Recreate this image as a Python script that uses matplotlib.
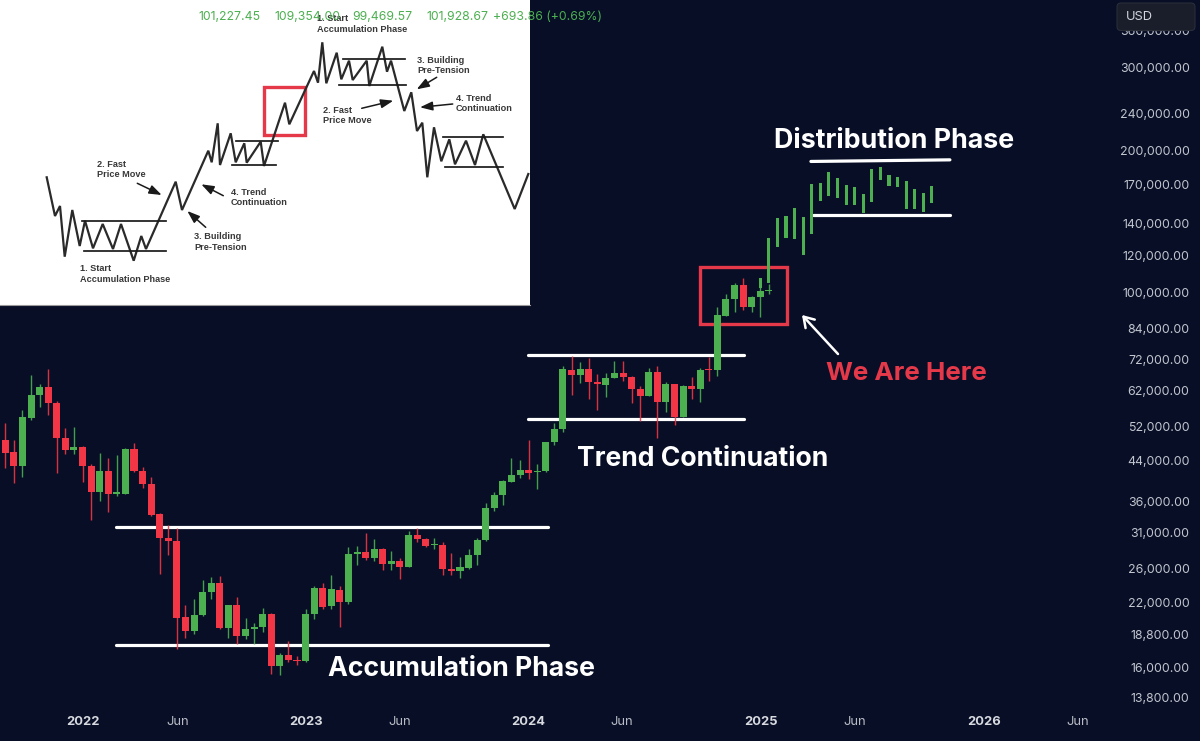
import matplotlib
matplotlib.use("Agg")
import matplotlib.pyplot as plt
from matplotlib.patches import Rectangle, FancyBboxPatch
from matplotlib.ticker import NullLocator, NullFormatter

BG = "#070e26"
GREEN = "#4caf50"
RED = "#f23645"
RECT = "#e5394a"
plt.rcParams["font.family"] = ["Inter", "DejaVu Sans"]

candle_up = [0,0,1,1,1,0,0,0,1,0,0,1,0,1,1,0,0,0,0,0,0,0,1,1,1,0,1,0,1,1,1,0,1,0,0,1,1,
             0,1,0,1,1,0,1,0,1,0,1,0,0,1,0,0,1,1,1,1,1,1,1,1,0,1,1,1,1,
             0,1,0,0,1,1,0,0,0,1,0,1,0,1,0,1,0,1,1,1,0,1,1,1]
body_top = [48690,45850,54400,60670,63000,63000,58430,49100,47050,47130,42870,41840,41840,37760,46660,46660,41910,39260,33860,30110,29760,20460,20700,23200,24160,24160,21730,21700,19320,19490,20800,20800,17020,17020,16630,20770,23650,
            23590,23470,23390,27880,28200,28200,28540,28540,26990,26990,30560,30560,30060,29300,29140,25960,26140,27790,29810,34930,37210,39790,41100,42050,42050,41780,48220,51380,68790,
            68560,69000,69000,64660,66040,67450,67450,66370,62370,67990,67990,64020,64020,63410,63410,68560,68890,89580,96880,103900,103900,98110,100700,101380]
body_bot = [45630,42870,42870,54140,60580,58430,49100,46370,46300,42870,37760,37760,37390,37390,37390,41840,39260,33750,30110,29670,20430,19140,19160,20680,23160,19390,19420,18680,18680,19350,19490,16150,16150,16610,16500,16500,20770,
            21560,21640,22050,22050,27840,27350,27350,26560,26560,26170,26170,29960,29000,29160,25880,25630,25630,26040,27750,29810,34870,37150,39710,41100,41370,41570,41780,48150,51380,
            66850,66850,64660,63950,63720,65930,66260,62370,60500,60500,58590,58590,54570,54570,62370,62480,68680,68460,89430,96880,93150,93150,98110,100700]
wick_high = [52830,48690,56380,66910,64020,68790,59010,51560,51800,47280,43290,45630,44650,45250,46750,48050,42730,40570,34020,32140,31620,21730,22350,24560,24890,25050,21730,22600,20370,19880,21390,20930,17160,18260,16930,21280,23840,
             24160,25170,23840,28820,29000,30950,29960,28680,28340,27300,31250,31620,30110,30110,29520,27970,27440,28540,30230,35730,37820,40040,44530,44150,48690,43290,48290,52830,69750,
             73420,71390,72600,67230,67450,71520,71520,66590,63410,69130,69750,64760,64100,63720,66150,69130,73170,93150,99270,104800,107700,98450,102700,104400]
wick_low = [42400,39400,40570,53690,57130,55020,41500,45470,45470,39710,32930,36180,34290,37030,37390,41640,38510,33580,25290,27750,17500,18530,18860,20600,22350,19350,18470,17970,18430,17970,19070,15510,15440,16470,16180,16450,20330,
            21340,21340,19560,21900,26390,27080,26900,25790,25790,24680,26140,29610,28820,28540,25170,25210,24800,25960,26430,29760,34460,35440,39590,40380,40310,38380,41700,47520,50710,
            60580,64240,59410,56380,60000,65930,65060,58280,53430,60400,49100,55920,52390,54400,59530,58700,65060,66720,89280,91220,91930,91220,88980,99270]

future_index = list(range(88, 109))
future_high = [107350,130580,143990,145800,151150,144700,170000,170820,180260,175040,169160,167500,161930,182920,185000,177900,176430,173000,165960,162750,168580]
future_low = [102200,104760,125300,130960,130320,120330,133360,156960,160620,159280,153920,153470,147500,156190,173600,168580,168000,150930,150730,148660,154980]

y_ticks = [360000,300000,240000,200000,170000,140000,120000,100000,84000,72000,62000,52000,44000,36000,31000,26000,22000,18800,16000,13800]
x_tick_pos = [9.06,20.13,35.05,46.0,61.0,71.9,88.1,99.0,114.1,125.0]
x_tick_labels = ["2022","Jun","2023","Jun","2024","Jun","2025","Jun","2026","Jun"]

# (x0, x1, price0, price1)
levels = [(12.9,63.25,31820,31820),(12.9,63.25,17880,17880),
          (60.9,86.1,73770,73770),(60.9,86.1,53950,53950),
          (93.9,110.1,190000,191500),(94.1,110.1,146300,146300)]

sketch_x = [46.7,55,60,64.7,72.3,79.7,85,93,102.7,113,121,133.7,141.3,146,175.7,182,208.3,211.7,217.7,220,230.7,235.7,244.3,246.7,260.7,264,285,289.3,314,318,322.3,326.3,336.7,341.3,349,352.7,366.7,369.3,382.3,387,391,404.3,411.3,417,422.3,427.3,434,441.3,449.3,455,466,475,483.3,514.7,528.3]
sketch_y = [177.3,216,206,256.7,210,246,220.7,248.3,224,249,224,260.7,236,249,181.7,210,150.7,162.3,123.3,165,133.3,162.3,143.3,162.7,141.7,166,102.7,124.3,71,82.7,42.3,83.3,52.7,79.3,60.7,80,60.7,86,46.7,71.7,60.7,111,92.3,131,122.7,177.3,127.3,161.3,139.3,164.3,140.7,165,134.3,209,174]
sketch_lines = [(81.7,165.7,220.7),(84,165.7,251),(236,278,140.7),(232.3,276,165.3),(342.7,405,59.3),(338.7,405.7,84.7),(442.7,502.7,137),(445,502.7,167.3)]
sketch_notes = [("1. Start\nAccumulation Phase",80.5,274),("2. Fast\nPrice Move",97,169.5),("3. Building\nPre-Tension",194,242),("4. Trend\nContinuation",231,197.5),
                ("1. Start\nAccumulation Phase",316.7,24),("3. Building\nPre-Tension",417,65.5),("2. Fast\nPrice Move",323.3,115.5),("4. Trend\nContinuation",455.7,103.5)]
sketch_arrows = [(137.3,183.3,161.7,195),(223.3,195.7,201.3,184.3),(205.7,227.3,187.3,211),(361.7,108.3,393.3,100.7),(436.7,77.3,416.7,89.3),(452.7,104,420,107.3)]
ohlc_labels = [("101,227.45",198),("109,354.00",274.7),("99,469.57",352.7),("101,928.67",426),("+693.86 (+0.69%)",493)]

fig = plt.figure(figsize=(12, 7.41), dpi=100, facecolor=BG)
ax = fig.add_axes([0, 0, 1, 1], facecolor=BG)
ax.set_yscale("log")
ax.set_xlim(-0.618, 139.25)
ax.set_ylim(11184, 418260)

for x0, x1, p0, p1 in levels:
    ax.plot([x0, x1], [p0, p1], color="white", lw=2.3, solid_capstyle="round", zorder=2)

ax.add_patch(Rectangle((80.97, 85840), 10.1, 113290 - 85840, fill=False, ec=RECT, lw=2.4, zorder=2))

for i, up in enumerate(candle_up):
    c = GREEN if up else RED
    ax.vlines(i, wick_low[i], wick_high[i], color=c, lw=1.0, alpha=0.9, zorder=3)
    ax.bar(i, body_top[i] - body_bot[i], bottom=body_bot[i], width=0.82, color=c, zorder=4)
for i, h, l in zip(future_index, future_high, future_low):
    ax.bar(i, h - l, bottom=l, width=0.36, color=GREEN, zorder=4)

ax.yaxis.tick_right()
ax.yaxis.set_minor_locator(NullLocator())
ax.yaxis.set_minor_formatter(NullFormatter())
ax.set_yticks(y_ticks)
ax.set_yticklabels([f"{v:,.2f}" for v in y_ticks], color="#c3c6cf", fontsize=8.9, ha="right")
ax.tick_params(axis="y", which="both", length=0, pad=-7.5)
ax.set_xticks(x_tick_pos)
ax.set_xticklabels(x_tick_labels, fontsize=9.3)
for lab in ax.get_xticklabels():
    if lab.get_text().isdigit():
        lab.set_fontweight("bold"); lab.set_color("#d8dae0")
    else:
        lab.set_color("#b8bbc4")
ax.tick_params(axis="x", length=0, pad=-18)
for s in ax.spines.values():
    s.set_visible(False)

# inset sketch
ins = fig.add_axes([0, (741 - 304.5) / 741, 529.5 / 1200, 304.5 / 741], facecolor="white", zorder=5)
ins.set_xlim(0, 529.5); ins.set_ylim(304.5, 0)
ins.set_xticks([]); ins.set_yticks([])
for n, s in ins.spines.items():
    s.set_visible(n == "bottom")
ins.spines["bottom"].set_color("#9a9a9a")
ins.plot(sketch_x, sketch_y, color="#2a2a2a", lw=1.6, solid_joinstyle="miter")
for x0, x1, y in sketch_lines:
    ins.plot([x0, x1], [y, y], color="#1a1a1a", lw=1.25)
for txt, x, y in sketch_notes:
    ins.text(x, y, txt, family="Liberation Sans", weight="bold", fontsize=6.6, color="#383838",
             ha="left", va="center", linespacing=1.2)
for x0, y0, x1, y1 in sketch_arrows:
    ins.annotate("", xy=(x1, y1), xytext=(x0, y0),
                 arrowprops=dict(arrowstyle="-|>,head_length=0.75,head_width=0.27", color="#1a1a1a", lw=1.1, shrinkA=0, shrinkB=0))
ins.add_patch(Rectangle((264, 86.5), 41, 48.5, fill=False, ec=RECT, lw=2.4))
for txt, x in ohlc_labels:
    ins.text(x, 17.5, txt, color=GREEN, fontsize=8.8, ha="left", va="center", clip_on=False)

# overlay annotations in pixel space
ov = fig.add_axes([0, 0, 1, 1], zorder=6)
ov.set_xlim(0, 1200); ov.set_ylim(741, 0); ov.axis("off")
ov.add_patch(FancyBboxPatch((1117, 3), 78, 27.5, boxstyle="round,pad=0,rounding_size=4", fc="#1a1e2b", ec="#2a2e39", lw=0.8))
ov.text(1126, 16.5, "USD", color="#d1d4dc", fontsize=9.3, va="center")
ov.text(774, 141.5, "Distribution Phase", color="white", fontsize=19.3, weight="bold", va="center")
ov.text(577, 459.5, "Trend Continuation", color="white", fontsize=19.1, weight="bold", va="center")
ov.text(328, 668.5, "Accumulation Phase", color="white", fontsize=19.2, weight="bold", va="center")
ov.text(826, 374, "We Are Here", color=RECT, fontsize=18.7, weight="bold", va="center")
ov.annotate("", xy=(802, 315), xytext=(838, 354),
            arrowprops=dict(arrowstyle="->,head_length=0.7,head_width=0.45", color="white", lw=1.8, shrinkA=0, shrinkB=0))

fig.savefig("out.png", dpi=100, facecolor=BG)
